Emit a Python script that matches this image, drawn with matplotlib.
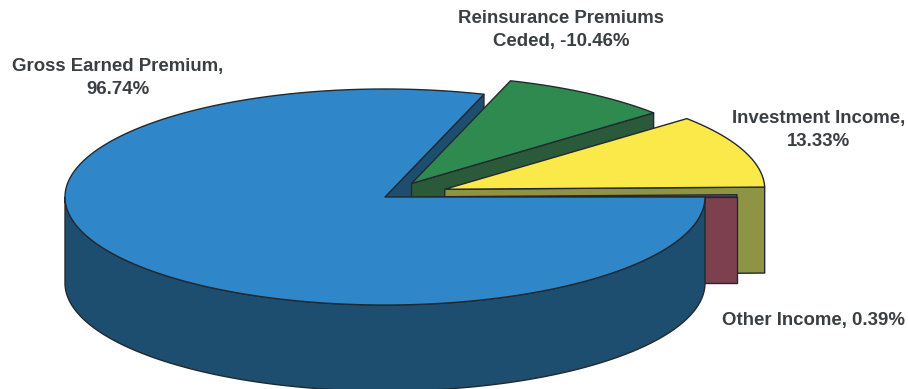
import numpy as np
import matplotlib.pyplot as plt

# slices, clockwise from 3 o'clock
names=['Other Income','Investment Income','Reinsurance Premiums','Gross Earned Premium']
values=[0.39,13.33,-10.46,96.74]
explode=[0.10,0.20,0.15,0.0]

top_cols=['#a5444f','#fbe94a','#2f8a50','#2f86c8']
side_cols=['#7d404e','#8e9444','#2b5a3a','#1d4e70']
edge='#222a30'

cx=385    # pie centre, px
cy=197
rx=320
ry=108
depth=86

sizes=np.abs(values)
angles=np.concatenate([[0],np.cumsum(sizes)/sizes.sum()*360])

def pt(a, ox, oy, dz=0):
    a=np.radians(a)
    return ox+rx*np.cos(a), oy-ry*np.sin(a)+dz

def top_face(a0, a1, ox, oy):
    t=np.linspace(a0,a1,300)
    x,y=pt(t,ox,oy)
    return np.r_[ox,x], np.r_[oy,y]

def edge_wall(a, ox, oy):
    x,y=pt(a,ox,oy)
    return [ox,x,x,ox], [oy,y,y+depth,oy+depth]

def rim_wall(a0, a1, ox, oy):
    t=np.linspace(a0,a1,300)
    x,y=pt(t,ox,oy)
    return np.r_[x,x[::-1]], np.r_[y,y[::-1]+depth]

fig=plt.figure(figsize=(9.08,3.89),dpi=100)
ax=fig.add_axes([0,0,1,1])
ax.set_xlim(0,908)
ax.set_ylim(389,0)
ax.axis('off')

offs=[]
for i in range(4):
    mid=np.radians((angles[i]+angles[i+1])/2)
    offs.append((cx+explode[i]*rx*np.cos(mid), cy-explode[i]*ry*np.sin(mid)))

def fill(xy, col, z):
    ax.fill(xy[0],xy[1],fc=col,ec=edge,lw=1.0,joinstyle='round',zorder=z)

# painter's order: gap wall of the big slice, then the pulled out slices, big slice last
fill(edge_wall(angles[3],*offs[3]),side_cols[3],1)

# reinsurance
fill(edge_wall(angles[2],*offs[2]),side_cols[2],2)
fill(top_face(angles[2],angles[3],*offs[2]),top_cols[2],3)

# investment
fill(edge_wall(angles[1],*offs[1]),side_cols[1],4)
fill(top_face(angles[1],angles[2],*offs[1]),top_cols[1],5)

# other income
fill(edge_wall(angles[0],*offs[0]),side_cols[0],6)
fill(top_face(angles[0],angles[1],*offs[0]),top_cols[0],7)

# gross earned premium
fill(rim_wall(180,360,*offs[3]),side_cols[3],8)
fill(top_face(angles[3],360,*offs[3]),top_cols[3],9)

font=dict(family='Liberation Sans',fontweight='bold',fontsize=13.4,color='#3a3f44',
          ha='center',va='center',linespacing=1.5)
ax.text(118,78,f'{names[3]},\n{values[3]:.2f}%',**font)
ax.text(561,30,f'Reinsurance Premiums\nCeded, {values[2]:.2f}%',**font)
ax.text(819,130,f'{names[1]},\n{values[1]:.2f}%',**font)
ax.text(814,321,f'{names[0]}, {values[0]:.2f}%',**font)

fig.savefig('out.png',dpi=100)
